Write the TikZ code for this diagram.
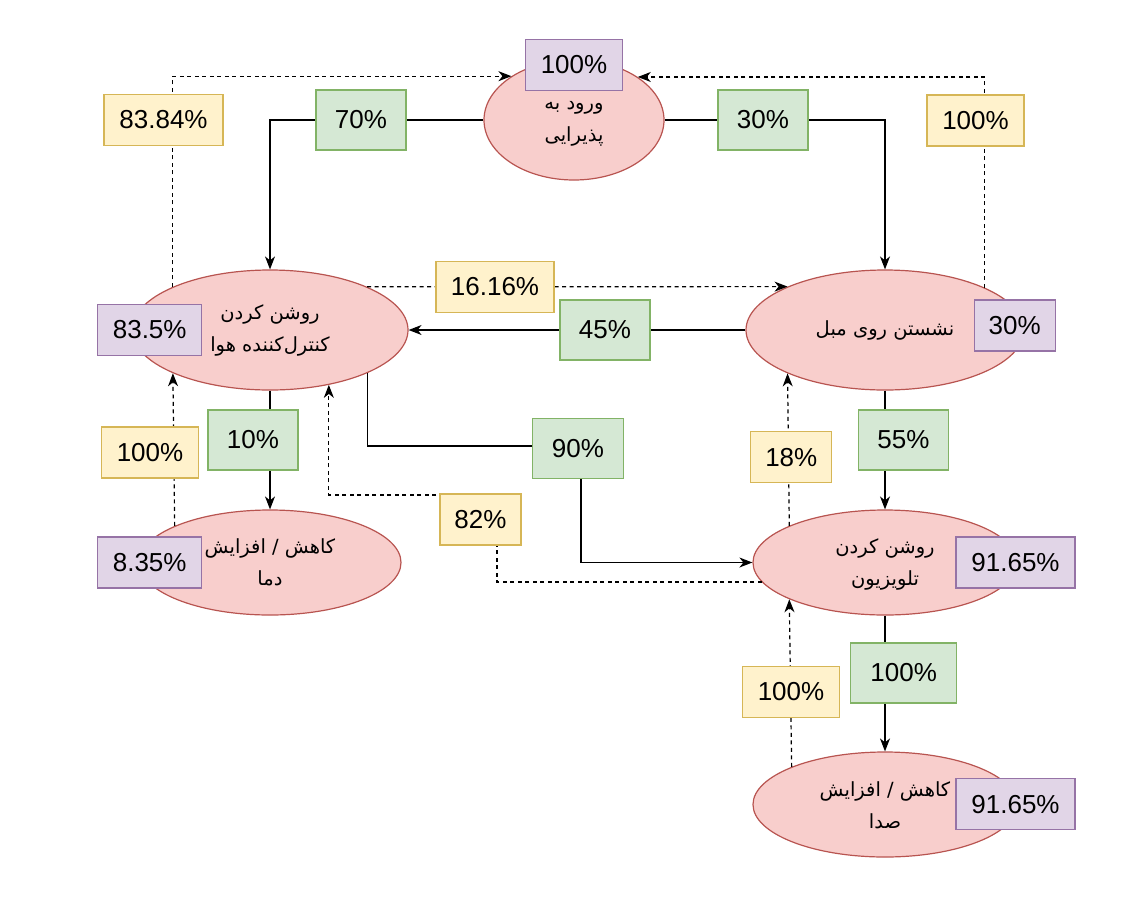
\documentclass[tikz,border=0pt]{standalone}
\usepackage{fontspec}
\setmainfont{Liberation Sans}
\newfontfamily\fa[Script=Arabic]{DejaVu Sans}
\TeXXeTstate=1
\usetikzlibrary{shapes.geometric,arrows.meta}
\definecolor{ellfill}{HTML}{F8CECC}
\definecolor{ellline}{HTML}{B85450}
\definecolor{gfill}{HTML}{D5E8D4}
\definecolor{gline}{HTML}{82B366}
\definecolor{yfill}{HTML}{FFF2CC}
\definecolor{yline}{HTML}{D6B656}
\definecolor{pfill}{HTML}{E1D5E7}
\definecolor{pline}{HTML}{9673A6}
\tikzset{
 ell/.style={ellipse, draw=ellline, fill=ellfill, line width=1.2pt, inner sep=0pt},
 lbl/.style={line width=1.3pt, inner sep=0pt, font=\fontsize{26}{30}\selectfont},
 gbox/.style={lbl, draw=gline, fill=gfill, minimum height=60pt},
 ybox/.style={lbl, draw=yline, fill=yfill, minimum height=51pt},
 pbox/.style={lbl, draw=pline, fill=pfill, minimum height=51pt},
 conn/.style={line width=1.2pt, -{Stealth[length=13pt,width=10pt,inset=4pt]}},
 dconn/.style={conn, dash pattern=on 4pt off 3.5pt},
 etext/.style={font=\fa\fontsize{19.5}{32}\selectfont, align=center, inner sep=0pt}
}
\begin{document}
\begin{tikzpicture}[x=1pt,y=-1pt]
\useasboundingbox (0,0) rectangle (1125,922);
% ellipses
\node[ell, minimum width=180pt, minimum height=120pt] (E1) at (574,120) {};
\node[ell, minimum width=276pt, minimum height=120pt] (E2) at (270,330) {};
\node[ell, minimum width=278pt, minimum height=120pt] (E3) at (885,330) {};
\node[ell, minimum width=262pt, minimum height=105pt] (E4) at (270,562.5) {};
\node[ell, minimum width=264pt, minimum height=105pt] (E5) at (885,562.5) {};
\node[ell, minimum width=264pt, minimum height=105pt] (E6) at (885,804.5) {};
% texts
\node[etext] (t1) at (574,124) {\beginR ورود به\endR\\\beginR پذیرایی\endR};
\node[etext] (t2) at (270,330) {\beginR روشن کردن\endR\\\beginR کنترل‌کننده هوا\endR};
\node[etext] (t3) at (885,330) {\beginR نشستن روی مبل\endR};
\node[etext] (t4) at (270,562) {\beginR کاهش / افزایش\endR\\\beginR دما\endR};
\node[etext] (t5) at (885,564) {\beginR روشن کردن\endR\\\beginR تلویزیون\endR};
\node[etext] (t6) at (885,805) {\beginR کاهش / افزایش\endR\\\beginR صدا\endR};
% bend coordinates
\coordinate (b90) at (581,446);
\coordinate (b82) at (497,495);
% solid connectors
\draw[conn] (E1.west) -| (E2.north);
\draw[conn] (E1.east) -| (E3.north);
\draw[conn] (E3.west) -- (E2.east);
\draw[conn] (E2.south) -- (E4.north);
\draw[conn] (E2.336.24) |- (b90) |- (E5.west);
\draw[conn] (E3.south) -- (E5.north);
\draw[conn] (E5.south) -- (E6.north);
% dashed connectors
\draw[dconn] (E2.156.65) |- (E1.145.9);
\draw[dconn] (E3.23.5) |- (E1.34.1);
\draw[dconn] (E2.24.1) -- (E3.156.1);
\draw[dconn] (E4.159.6) -- (E2.204.2);
\draw[dconn] (E5.189.6) -| (b82) -| (E2.317.4);
\draw[dconn] (E5.159.4) -- (E3.204.3);
\draw[dconn] (E6.158.15) -- (E5.201.85);
% green labels
\node[gbox, minimum width=90pt] (g70) at (361,120) {70\%};
\node[gbox, minimum width=90pt] (g30) at (763,120) {30\%};
\node[gbox, minimum width=90pt] (g45) at (605,330) {45\%};
\node[gbox, minimum width=90pt] (g10) at (253,440) {10\%};
\node[gbox, minimum width=91pt] (g90) at (578,448.5) {90\%};
\node[gbox, minimum width=90pt] (g55) at (903.5,440) {55\%};
\node[gbox, minimum width=106pt] (g100) at (903.7,673) {100\%};
% yellow labels
\node[ybox, minimum width=119pt] (y8384) at (163.5,120) {83.84\%};
\node[ybox, minimum width=97pt] (y100tr) at (975.5,120.5) {100\%};
\node[ybox, minimum width=118pt] (y1616) at (495,287) {16.16\%};
\node[ybox, minimum width=97pt] (y100l) at (150,452.5) {100\%};
\node[ybox, minimum width=81pt] (y82) at (480.5,519.5) {82\%};
\node[ybox, minimum width=81pt] (y18) at (791.3,457.3) {18\%};
\node[ybox, minimum width=97pt] (y100b) at (791,691.7) {100\%};
% purple labels
\node[pbox, minimum width=96.5pt] (p100) at (574,65) {100\%};
\node[pbox, minimum width=104pt] (p835a) at (149.7,330) {83.5\%};
\node[pbox, minimum width=104pt] (p835b) at (149.7,562.5) {8.35\%};
\node[pbox, minimum width=81pt] (p30) at (1014.7,325.5) {30\%};
\node[pbox, minimum width=119pt] (p9165a) at (1015.5,562.5) {91.65\%};
\node[pbox, minimum width=119pt] (p9165b) at (1015.5,804.3) {91.65\%};
\end{tikzpicture}
\end{document}
